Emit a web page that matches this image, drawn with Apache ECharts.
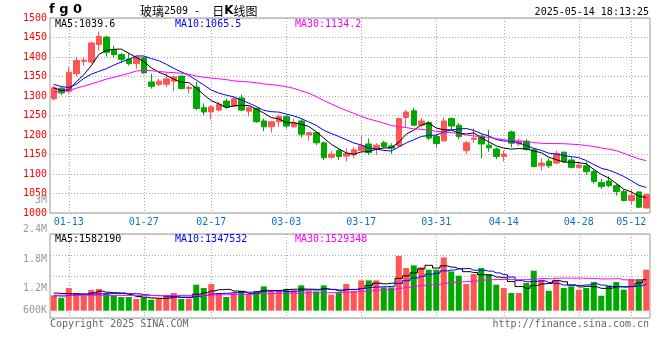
<!DOCTYPE html>
<html>
<head>
<meta charset="utf-8">
<script src="https://cdn.jsdelivr.net/npm/echarts@6/dist/echarts.min.js"></script>
<style>html,body{margin:0;padding:0;background:#fff}#c{width:660px;height:360px}</style>
</head>
<body>
<div id="c"></div>
<script>
// ---- data ----
const dates = ['01-09','01-10','01-13','01-14','01-15','01-16','01-17','01-20','01-21','01-22',
 '01-23','01-24','01-27','02-05','02-06','02-07','02-10','02-11','02-12','02-13',
 '02-14','02-17','02-18','02-19','02-20','02-21','02-24','02-25','02-26','02-27',
 '02-28','03-03','03-04','03-05','03-06','03-07','03-10','03-11','03-12','03-13',
 '03-14','03-17','03-18','03-19','03-20','03-21','03-24','03-25','03-26','03-27',
 '03-28','03-31','04-01','04-02','04-03','04-07','04-08','04-09','04-10','04-11',
 '04-14','04-15','04-16','04-17','04-18','04-21','04-22','04-23','04-24','04-25',
 '04-28','04-29','04-30','05-06','05-07','05-08','05-09','05-12','05-13','05-14'];
const tickDates = ['01-13','01-27','02-17','03-03','03-17','03-31','04-14','04-28','05-12'];

const opens = [1293,1320,1312,1357,1389,1387,1432,1451,1418,1406,
 1395,1383,1398,1336,1330,1330,1338,1351,1319,1323,
 1270,1259,1264,1287,1274,1295,1261,1268,1236,1221,
 1234,1247,1221,1236,1200,1206,1180,1143,1160,1146,
 1149,1160,1177,1164,1180,1172,1172,1245,1262,1225,
 1232,1196,1185,1242,1225,1160,1189,1197,1174,1164,
 1145,1208,1177,1184,1162,1121,1133,1128,1156,1136,
 1117,1121,1106,1078,1082,1070,1055,1032,1054,1013];
const closes = [1321,1308,1361,1391,1392,1436,1453,1412,1406,1394,
 1383,1400,1359,1325,1338,1344,1349,1319,1322,1268,
 1259,1272,1279,1272,1293,1264,1270,1234,1221,1234,
 1248,1223,1231,1202,1206,1180,1142,1151,1145,1153,
 1162,1172,1155,1174,1170,1166,1242,1259,1225,1236,
 1192,1178,1236,1223,1196,1180,1192,1177,1167,1145,
 1151,1179,1184,1163,1119,1128,1121,1153,1132,1117,
 1123,1106,1081,1068,1070,1055,1032,1045,1015,1047];
const lows = [1289,1303,1306,1350,1378,1383,1417,1401,1398,1385,
 1378,1370,1357,1319,1325,1323,1312,1317,1306,1264,
 1251,1240,1260,1268,1272,1261,1248,1231,1210,1206,
 1221,1217,1219,1193,1185,1174,1136,1139,1136,1132,
 1140,1157,1149,1149,1166,1151,1170,1221,1223,1221,
 1187,1168,1183,1214,1189,1151,1180,1140,1157,1138,
 1132,1168,1172,1160,1117,1109,1115,1126,1128,1115,
 1115,1098,1075,1062,1066,1045,1030,1021,1013,1011];
const highs = [1326,1322,1374,1400,1401,1440,1465,1454,1429,1410,
 1410,1401,1401,1357,1344,1359,1353,1353,1327,1336,
 1281,1276,1285,1293,1299,1304,1274,1270,1242,1236,
 1253,1251,1242,1240,1208,1208,1183,1160,1166,1166,
 1168,1197,1191,1179,1185,1179,1245,1264,1270,1244,
 1236,1202,1245,1245,1231,1185,1217,1202,1213,1168,
 1160,1211,1191,1190,1166,1140,1140,1160,1157,1143,
 1132,1132,1112,1087,1094,1075,1060,1061,1055,1049];

const ma5 = [1321,1314,1316,1336,1354.6,1377.6,1406.6,1416.8,1419.8,1420.2,
 1409.6,1399.0,1388.4,1372.2,1361.0,1353.2,1343.0,1335.0,1334.4,1320.4,
 1303.4,1288.0,1280.0,1270.0,1275.0,1276.0,1275.6,1266.6,1256.4,1244.6,
 1241.4,1232.0,1231.4,1227.6,1222.0,1208.4,1192.2,1176.2,1164.8,1154.2,
 1150.6,1156.6,1157.4,1163.2,1166.6,1167.4,1181.4,1202.2,1212.4,1225.6,
 1230.8,1218.0,1213.4,1213.0,1205.0,1202.6,1205.4,1193.6,1182.4,1172.2,
 1166.4,1163.8,1165.2,1164.4,1159.2,1154.6,1143.0,1136.8,1130.6,1130.2,
 1129.2,1126.2,1111.8,1099.0,1089.6,1076.0,1061.2,1054.0,1043.4,1039.6];
const ma10 = [1330,1324,1322,1330,1345,1356,1363,1370,1379,1387.4,
 1393.6,1402.8,1402.6,1396.0,1390.6,1381.4,1371.0,1361.7,1353.3,1340.7,
 1328.3,1315.5,1307.5,1302.2,1297.7,1289.7,1281.8,1273.3,1263.2,1259.8,
 1258.7,1253.8,1249.0,1242.0,1233.3,1224.9,1212.1,1203.8,1196.2,1188.1,
 1179.5,1174.4,1166.8,1164.0,1160.4,1159.0,1169.0,1179.8,1187.8,1196.1,
 1199.1,1199.7,1207.8,1212.7,1215.3,1216.7,1211.7,1203.5,1197.7,1188.6,
 1184.5,1184.6,1179.4,1173.4,1165.7,1160.5,1153.4,1151.0,1147.5,1144.7,
 1141.9,1134.6,1124.3,1114.8,1109.9,1102.6,1093.7,1082.9,1071.2,1065.5];
const ma30 = [1310,1311,1314,1320,1325,1331,1337,1343,1348,1353,
 1358,1364,1366,1365,1363,1361,1360,1358,1356,1351,
 1348,1346,1344,1342,1339,1337,1336,1334,1331,1329.3,
 1326.9,1324.0,1319.7,1313.4,1307.2,1298.7,1288.3,1279.6,1270.9,1262.9,
 1255.5,1247.9,1241.1,1236.1,1230.5,1224.5,1221.0,1219.0,1215.7,1214.7,
 1212.4,1209.3,1207.9,1206.2,1203.0,1200.2,1197.6,1195.7,1193.9,1190.9,
 1187.7,1186.2,1184.7,1183.4,1180.5,1178.7,1178.0,1178.1,1177.7,1176.5,
 1175.2,1173.0,1170.5,1167.0,1163.6,1159.9,1152.9,1145.8,1138.8,1134.2];

const volumes = [782000,646000,1156000,901000,782000,1054000,1105000,867000,782000,697000,
 697000,595000,680000,561000,595000,765000,901000,595000,612000,1326000,
 1156000,1360000,901000,697000,901000,1020000,850000,986000,1241000,1054000,
 1037000,1105000,1037000,1292000,1020000,986000,1292000,816000,935000,1360000,
 1020000,1547000,1547000,1547000,1190000,1190000,2788000,2176000,2312000,2210000,
 2091000,2091000,2720000,2006000,1785000,1360000,1870000,2176000,1870000,1326000,
 1156000,901000,901000,1411000,2040000,1581000,1020000,1581000,1156000,1241000,
 1071000,1156000,1462000,765000,1292000,1462000,1071000,1615000,1615000,2091000];
const volMa5 = [900000,880000,870000,860000,853000,908000,1000000,942000,918000,901000,
 830000,728000,690000,646000,626000,639000,700000,683000,694000,840000,
 918000,1010000,1071000,1088000,1003000,976000,874000,891000,1000000,1030000,
 1034000,1085000,1095000,1105000,1098000,1088000,1125000,1081000,1010000,1078000,
 1085000,1136000,1282000,1404000,1370000,1404000,1652000,1778000,1931000,2135000,
 2315000,2176000,2285000,2224000,2139000,1992000,1948000,1839000,1812000,1720000,
 1680000,1486000,1231000,1139000,1282000,1367000,1391000,1527000,1476000,1316000,
 1214000,1241000,1217000,1139000,1149000,1227000,1210000,1241000,1411000,1582190];
const volMa10 = [760000,750000,790000,820000,840000,850000,860000,870000,870000,877000,
 869000,864000,816000,782000,763000,734000,714000,687000,670000,733000,
 779000,855000,877000,891000,921000,947000,942000,981000,1044000,1017000,
 1005000,979000,993000,1052000,1064000,1061000,1105000,1088000,1057000,1088000,
 1086000,1131000,1182000,1207000,1224000,1244000,1394000,1530000,1668000,1753000,
 1860000,1914000,2032000,2077000,2137000,2154000,2062000,2062000,2018000,1930000,
 1836000,1717000,1535000,1476000,1501000,1523000,1438000,1379000,1307000,1299000,
 1290000,1316000,1372000,1307000,1233000,1221000,1226000,1229000,1275000,1347532];
const volMa30 = [790000,790000,790000,790000,785000,785000,785000,780000,780000,780000,
 780000,780000,780000,775000,775000,775000,775000,780000,780000,785000,
 790000,800000,810000,815000,825000,835000,845000,855000,865000,876000,
 884000,899000,895000,908000,916000,914000,920000,919000,924000,946000,
 957000,988000,1017000,1050000,1070000,1084000,1147000,1200000,1256000,1286000,
 1317000,1341000,1402000,1446000,1475000,1486000,1520000,1560000,1581000,1590000,
 1594000,1587000,1583000,1587000,1621000,1641000,1631000,1657000,1664000,1660000,
 1662000,1649000,1646000,1620000,1624000,1633000,1575000,1557000,1533000,1529348];

const volTickValues = [600000,1200000,1800000,2400000,3000000];
const volTickLabels = ['600K','1.2M','1.8M','2.4M','3M'];
const priceLegend = ['MA5:1039.6','MA10:1065.5','MA30:1134.2'];
const volLegend = ['MA5:1582190','MA10:1347532','MA30:1529348'];
const titleCode = 'f g 0';
const timeStamp = '2025-05-14 18:13:25';
const copyrightText = 'Copyright 2025 SINA.COM';
const urlText = 'http://finance.sina.com.cn';

// ---- styling ----
const FONT = 'DejaVu Sans Mono';
const RED = '#ff5555', GREEN = '#00a800';
const GRIDC = '#aaaaaa';
const showTick = function (i, v) { return tickDates.indexOf(v) >= 0; };

const kData = opens.map(function (o, i) { return [o, closes[i], lows[i], highs[i]]; });
const volData = volumes.map(function (v, i) {
  return { value: v, itemStyle: { color: closes[i] >= opens[i] ? RED : GREEN } };
});

const lineS = function (name, data, color, xi, yi, step) {
  return { name: name, type: 'line', data: data, xAxisIndex: xi, yAxisIndex: yi,
    showSymbol: false, symbol: 'none', step: step || false, silent: true,
    lineStyle: { color: color, width: 1 }, z: 5 };
};

const txt = function (text, x, y, color, opt) {
  opt = opt || {};
  return { type: 'text', x: x, y: y, z: 100, silent: true,
    style: Object.assign({ text: text, fill: color, font: '10px "' + FONT + '"',
      align: 'left', verticalAlign: 'middle' }, opt) };
};

const chart = echarts.init(document.getElementById('c'));
chart.setOption({
  animation: false,
  backgroundColor: '#ffffff',
  grid: [
    { left: 50, top: 18, width: 600, height: 195, show: true, borderColor: '#999', borderWidth: 1, backgroundColor: 'transparent', outerBoundsMode: 'none' },
    { left: 50, top: 234, width: 600, height: 84, show: true, borderColor: '#999', borderWidth: 1, backgroundColor: 'transparent', outerBoundsMode: 'none' },
    { left: 50, top: 200, width: 600, height: 118, show: false, outerBoundsMode: 'none' }
  ],
  xAxis: [
    { type: 'category', data: dates, gridIndex: 0, boundaryGap: true,
      axisLine: { show: false }, axisTick: { show: false },
      axisLabel: { interval: showTick, color: '#0a74c8', fontFamily: FONT, fontSize: 10, margin: 4 },
      splitLine: { show: true, interval: showTick, alignWithLabel: true, lineStyle: { color: GRIDC, type: [1, 2], width: 1 } } },
    { type: 'category', data: dates, gridIndex: 1, boundaryGap: true,
      axisLine: { show: false }, axisTick: { show: false }, axisLabel: { show: false },
      splitLine: { show: true, interval: showTick, alignWithLabel: true, lineStyle: { color: GRIDC, type: [1, 2], width: 1 } } },
    { type: 'category', data: dates, gridIndex: 2, show: false }
  ],
  yAxis: [
    { type: 'value', gridIndex: 0, min: 1000, max: 1500, interval: 50,
      axisLine: { show: false }, axisTick: { show: false },
      axisLabel: { color: '#ff0000', fontFamily: FONT, fontSize: 10, margin: 3,
        formatter: function (v) { return String(v); } },
      splitLine: { show: true, lineStyle: { color: GRIDC, type: [1, 2], width: 1 } } },
    { type: 'value', gridIndex: 1, min: -372000, max: 3913000, show: false, splitLine: { show: false } },
    { type: 'value', gridIndex: 1, min: 0, max: 4, interval: 1, position: 'left',
      axisLine: { show: false }, axisTick: { show: false }, axisLabel: { show: false },
      splitLine: { show: true, lineStyle: { color: GRIDC, type: [1, 2], width: 1 } } },
    { type: 'value', gridIndex: 2, min: 600000, max: 3000000, interval: 600000,
      axisLine: { show: false }, axisTick: { show: false }, splitLine: { show: false },
      axisLabel: { color: '#999999', fontFamily: FONT, fontSize: 10, margin: 3,
        formatter: function (v) {
          const k = volTickValues.indexOf(v);
          const s = k >= 0 ? volTickLabels[k] : '';
          return k === 0 ? '{lo|' + s + '}' : s;
        },
        rich: { lo: { color: '#999999', fontFamily: FONT, fontSize: 10, padding: [0, 0, 16, 0] } } } }
  ],
  series: [
    { name: 'K', type: 'candlestick', data: kData, xAxisIndex: 0, yAxisIndex: 0, barWidth: 6,
      silent: true,
      itemStyle: { color: RED, color0: GREEN, borderColor: RED, borderColor0: GREEN, borderWidth: 1 } },
    lineS('MA5', ma5, '#000000', 0, 0),
    lineS('MA10', ma10, '#0000ff', 0, 0),
    lineS('MA30', ma30, '#ff00ff', 0, 0),
    { name: 'VOL', type: 'bar', data: volData, xAxisIndex: 1, yAxisIndex: 1, barWidth: 6, silent: true },
    lineS('VMA5', volMa5, '#000000', 1, 1, 'middle'),
    lineS('VMA10', volMa10, '#0000ff', 1, 1, 'middle'),
    lineS('VMA30', volMa30, '#ff00ff', 1, 1, 'middle')
  ],
  graphic: [
    { type: 'text', x: 49, y: 10, z: 100, silent: true,
      style: { text: titleCode, fill: '#000', font: 'bold 13px "DejaVu Sans"', verticalAlign: 'middle' } },
    { type: 'text', x: 140, y: 11, z: 100, silent: true,
      style: { text: '{a|玻璃}{d|2509 -  }{a|日}{k|K}{a|线图}', verticalAlign: 'middle',
        rich: {
          a: { fontFamily: 'Noto Sans CJK SC', fontSize: 12, color: '#000' },
          d: { fontFamily: FONT, fontSize: 10, color: '#333' },
          k: { fontFamily: 'DejaVu Sans', fontSize: 12, fontWeight: 'bold', color: '#000' }
        } } },
    txt(timeStamp, 649, 12, '#000', { align: 'right' }),
    txt(priceLegend[0], 55, 24, '#000000'),
    txt(priceLegend[1], 175, 24, '#0000ff'),
    txt(priceLegend[2], 295, 24, '#ff00ff'),
    txt(volLegend[0], 55, 239, '#000000'),
    txt(volLegend[1], 175, 239, '#0000ff'),
    txt(volLegend[2], 295, 239, '#ff00ff'),
    txt(copyrightText, 50, 324, '#666666'),
    txt(urlText, 649, 324, '#666666', { align: 'right' })
  ]
});
</script>
</body>
</html>
